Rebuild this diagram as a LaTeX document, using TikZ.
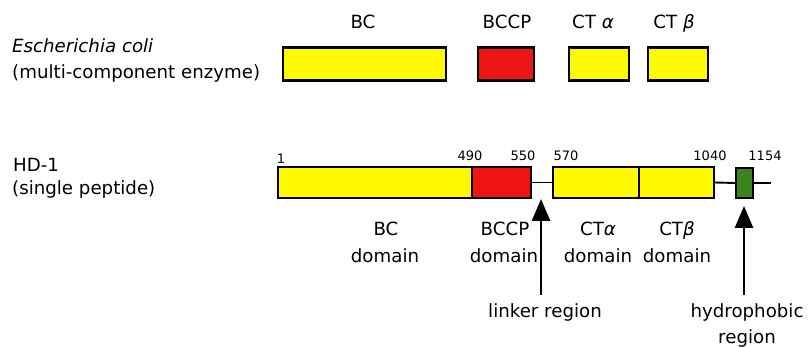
\documentclass[tikz,border=0pt]{standalone}
\usepackage{fontspec}
\setmainfont{DejaVu Sans}
\usetikzlibrary{arrows.meta}
\definecolor{dyellow}{RGB}{255,250,0}
\definecolor{dred}{RGB}{238,20,20}
\definecolor{dgreen}{RGB}{60,130,30}
\begin{document}
\begin{tikzpicture}[x=1pt,y=-1pt,
  lbl/.style={font=\fontsize{18.2}{25}\selectfont, inner sep=0pt, anchor=base},
  num/.style={font=\fontsize{13}{14}\selectfont, inner sep=0pt, anchor=base},
  tbox/.style={draw=black, line width=2.2pt, inner sep=0pt, minimum height=33pt},
  bbox/.style={draw=black, line width=1.8pt, inner sep=0pt, minimum height=31pt},
  link/.style={line width=1.9pt},
  bigarrow/.style={line width=2.8pt, -{Triangle[width=18pt,length=22pt]}}]
\useasboundingbox (0,0) rectangle (808,347);
% left labels
\node[lbl, anchor=base west] (ecoli) at (12,53) {\textit{Escherichia coli}};
\node[lbl, anchor=base west] (multi) at (12,79) {(multi-component enzyme)};
\node[lbl, anchor=base west] (hd) at (13,172) {HD-1};
\node[lbl, anchor=base west] (single) at (12,195) {(single peptide)};
% top row
\node[tbox, fill=dyellow, minimum width=163pt] (tbc) at (364.5,64) {};
\node[tbox, fill=dred, minimum width=56pt] (tbccp) at (506,64) {};
\node[tbox, fill=dyellow, minimum width=60pt] (tcta) at (599,64) {};
\node[tbox, fill=dyellow, minimum width=60pt] (tctb) at (678,64) {};
\node[lbl] (ltbc) at (363,29) {BC};
\node[lbl] (ltbccp) at (507,29) {BCCP};
\node[lbl] (ltcta) at (593,29) {CT \textit{α}};
\node[lbl] (ltctb) at (674,29) {CT \textit{β}};
% bottom row
\node[bbox, fill=dyellow, minimum width=194pt] (bbc) at (375,182.5) {};
\node[bbox, fill=dred, minimum width=59pt] (bbccp) at (501.5,182.5) {};
\node[bbox, fill=dyellow, minimum width=86pt] (bcta) at (596,182.5) {};
\node[bbox, fill=dyellow, minimum width=75pt] (bctb) at (676.5,182.5) {};
\node[bbox, fill=dgreen, minimum width=17pt, minimum height=30pt] (bgr) at (744.5,183) {};
\coordinate (cend) at (771,183);
\draw[link] (bbccp.east) -- (bcta.west);
\draw[link] (bctb.east) -- (bgr.west);
\draw[link] (bgr.east) -- (cend);
% numbers
\node[num] (n1) at (281,164) {1};
\node[num] (n490) at (470,161) {490};
\node[num] (n550) at (523,161) {550};
\node[num] (n570) at (566,161) {570};
\node[num] (n1040) at (710,161) {1040};
\node[num] (n1154) at (765,161) {1154};
% domain labels
\node[lbl] (dbc1) at (386,236) {BC};
\node[lbl] (dbc2) at (385,262) {domain};
\node[lbl] (dbccp1) at (505,236) {BCCP};
\node[lbl] (dbccp2) at (504,262) {domain};
\node[lbl] (dcta1) at (598,236) {CT\textit{α}};
\node[lbl] (dcta2) at (598,262) {domain};
\node[lbl] (dctb1) at (677,236) {CT\textit{β}};
\node[lbl] (dctb2) at (677,262) {domain};
\node[lbl] (linker) at (545,317) {linker region};
\node[lbl] (hydro1) at (747,317) {hydrophobic};
\node[lbl] (hydro2) at (747,343) {region};
% arrows
\coordinate (la) at (541,199);
\coordinate (ha) at (744,206);
\draw[bigarrow] (linker.north -| la) ++(0,-8) -- (la);
\draw[bigarrow] (hydro1.north -| ha) ++(0,-8) -- (ha);
\end{tikzpicture}
\end{document}
